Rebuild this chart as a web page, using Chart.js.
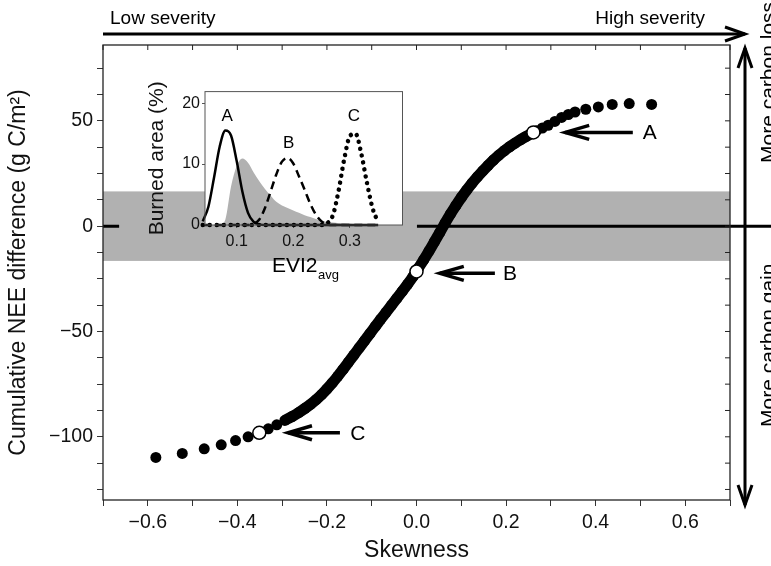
<!DOCTYPE html>
<html>
<head>
  <title>NEE vs skewness</title>
  <script src="https://cdn.jsdelivr.net/npm/chart.js"></script>
  <style>
    body { margin: 0; background: #fff; }
    #wrap { position: relative; width: 771px; height: 566px; }
    #mainChart { position: absolute; left: 0; top: 0; }
    #insetChart { position: absolute; left: 120px; top: 80px; }
  </style>
</head>
<body>
  <div id="wrap">
    <canvas id="mainChart" width="771" height="566"></canvas>
    <canvas id="insetChart" width="290" height="210"></canvas>
  </div>

  <script>
    // main panel: skewness vs cumulative NEE difference
    const skewness = [-0.582, -0.523, -0.474, -0.436, -0.404, -0.376, -0.351, -0.331, -0.312, -0.294,
      -0.278, -0.263, -0.249, -0.236, -0.224, -0.212, -0.200, -0.188, -0.176, -0.164,
      -0.152, -0.140, -0.128, -0.116, -0.104, -0.092, -0.080, -0.068, -0.056, -0.044,
      -0.032, -0.020, -0.008, 0.004, 0.016, 0.028, 0.040, 0.052, 0.064, 0.076,
      0.088, 0.100, 0.112, 0.124, 0.136, 0.148, 0.160, 0.172, 0.184, 0.196,
      0.208, 0.220, 0.232, 0.244, 0.256, 0.268, 0.281, 0.294, 0.309, 0.324,
      0.339, 0.354, 0.378, 0.406, 0.437, 0.475, 0.525];
    const neeDiff = [-109.8, -107.9, -105.7, -103.8, -101.8, -100.0, -98.1, -96.2, -94.3, -92.2,
      -90.4, -88.5, -86.5, -84.5, -82.4, -80.0, -77.3, -74.4, -71.3, -68.0,
      -64.6, -61.2, -57.8, -54.4, -51.0, -47.6, -44.2, -40.9, -37.6, -34.3,
      -31.0, -27.6, -24.0, -20.0, -16.0, -11.8, -7.4, -3.0, 1.5, 5.8,
      9.8, 13.6, 17.1, 20.4, 23.4, 26.2, 28.9, 31.4, 33.7, 35.8,
      37.7, 39.4, 41.0, 42.5, 43.9, 45.3, 46.6, 47.9, 49.7, 51.6,
      53.0, 54.2, 55.5, 56.6, 57.8, 58.2, 57.8];
    const denseFrom = 9, denseTo = 55; // run of overlapping dots drawn as a thick line

    const markerLabels = ['A', 'B', 'C'];
    const markerSkew = [0.261, 0.0, -0.351];
    const markerNee = [44.5, -21.5, -98.1];
    const arrowTipSkew = [0.332, 0.052, -0.287];
    const arrowTailSkew = [0.483, 0.175, -0.171];
    const arrowNee = [44.5, -22.4, -98.1];
    const arrowLabelSkew = [0.521, 0.209, -0.131];

    const bandRange = [-16.5, 16.5];
    const zeroLineGap = [-0.664, 0.001];

    const xTickValues = [-0.7, -0.6, -0.5, -0.4, -0.3, -0.2, -0.1, 0, 0.1, 0.2, 0.3, 0.4, 0.5, 0.6, 0.7];
    const xLabelValues = [-0.6, -0.4, -0.2, 0, 0.2, 0.4, 0.6];
    const yTickValues = [-125, -112.5, -100, -87.5, -75, -62.5, -50, -37.5, -25, -12.5, 0, 12.5, 25, 37.5, 50, 62.5, 75];
    const yLabelValues = [-100, -50, 0, 50];

    // inset: burned area distributions over EVI2avg
    const evi2 = [0.04, 0.05, 0.06, 0.07, 0.08, 0.09, 0.10, 0.11, 0.12, 0.13, 0.14, 0.15, 0.16, 0.17, 0.18, 0.19,
      0.20, 0.21, 0.22, 0.23, 0.24, 0.25, 0.26, 0.27, 0.28, 0.29, 0.30, 0.31, 0.32, 0.33, 0.34, 0.35];
    const burnedAll = [0, 0, 0, 0, 0.9, 6.3, 9.7, 10.9, 10.2, 8.6, 7.2, 5.9, 4.8, 3.8, 3.2, 2.8,
      2.4, 2.0, 1.6, 1.3, 1.0, 0.7, 0.5, 0.4, 0.3, 0.25, 0.2, 0.15, 0.1, 0.1, 0.05, 0];
    const burnedA = [0.6, 3.0, 7.8, 12.9, 15.5, 14.7, 10.5, 5.5, 2.0, 0.5, 0.1, 0, 0, 0, 0, 0,
      0, 0, 0, 0, 0, 0, 0, 0, 0, 0, 0, 0, 0, 0, 0, 0];
    const burnedB = [0, 0, 0, 0, 0, 0, 0, 0, 0, 0.2, 0.9, 2.8, 5.5, 8.3, 10.4, 11.0,
      10.1, 8.0, 5.8, 3.5, 1.7, 0.6, 0.1, 0, 0, 0, 0, 0, 0, 0, 0, 0];
    const burnedC = [0, 0, 0, 0, 0, 0, 0, 0, 0, 0, 0, 0, 0, 0, 0, 0,
      0, 0, 0, 0, 0, 0, 0.3, 1.6, 5.6, 10.8, 14.6, 15.0, 11.8, 7.0, 2.8, 0.4];
    const insetLabelX = [0.083, 0.192, 0.307];
    const insetLabelY = [17.9, 13.4, 17.9];
    const insetXTicks = [0.1, 0.2, 0.3];
    const insetYTicks = [0, 10, 20];

    const FONT = '"Liberation Sans", Arial, Helvetica, sans-serif';
    const minus = s => s.replace('-', '\u2212');
    const near = (arr, v) => arr.some(a => Math.abs(a - v) < 1e-9);
    const pts = (xs, ys) => xs.map((x, i) => ({ x: x, y: ys[i] }));

    function arrow(ctx, x1, y1, x2, y2, heads, len, spread) {
      // heads: 'end' = at x2,y2, 'start' = at x1,y1
      const d = Math.hypot(x2 - x1, y2 - y1);
      const ux = (x2 - x1) / d, uy = (y2 - y1) / d;
      ctx.beginPath();
      ctx.moveTo(x1, y1);
      ctx.lineTo(x2, y2);
      ctx.stroke();
      heads.forEach(h => {
        const tx = h === 'end' ? x2 : x1, ty = h === 'end' ? y2 : y1;
        const sx = h === 'end' ? ux : -ux, sy = h === 'end' ? uy : -uy;
        ctx.beginPath();
        ctx.moveTo(tx - len * sx - spread * sy, ty - len * sy + spread * sx);
        ctx.lineTo(tx, ty);
        ctx.lineTo(tx - len * sx + spread * sy, ty - len * sy - spread * sx);
        ctx.stroke();
      });
    }

    const mainDecor = {
      id: 'mainDecor',
      beforeDatasetsDraw(chart) {
        const { ctx, chartArea: a, scales: { x, y } } = chart;
        ctx.save();
        ctx.fillStyle = '#b1b1b1';
        const yt = y.getPixelForValue(bandRange[1]);
        const yb = y.getPixelForValue(bandRange[0]);
        ctx.fillRect(a.left, yt, a.right - a.left, yb - yt);
        const y0 = y.getPixelForValue(0);
        ctx.strokeStyle = '#000';
        ctx.lineWidth = 3;
        ctx.beginPath();
        ctx.moveTo(a.left, y0);
        ctx.lineTo(x.getPixelForValue(zeroLineGap[0]), y0);
        ctx.moveTo(x.getPixelForValue(zeroLineGap[1]), y0);
        ctx.lineTo(chart.width, y0);
        ctx.stroke();
        ctx.restore();
      },
      afterDraw(chart) {
        const { ctx, chartArea: a, scales: { x, y } } = chart;
        ctx.save();
        // frame + inward ticks on top and right
        ctx.strokeStyle = '#222';
        ctx.lineWidth = 1.3;
        ctx.strokeRect(a.left, a.top, a.right - a.left, a.bottom - a.top);
        ctx.lineWidth = 1;
        ctx.beginPath();
        xTickValues.forEach(v => {
          const px = x.getPixelForValue(v);
          ctx.moveTo(px, a.top);
          ctx.lineTo(px, a.top + 5);
        });
        yTickValues.forEach(v => {
          const py = y.getPixelForValue(v);
          ctx.moveTo(a.right, py);
          ctx.lineTo(a.right - 5, py);
        });
        ctx.stroke();

        // A/B/C pointer arrows
        ctx.strokeStyle = '#000';
        ctx.fillStyle = '#000';
        ctx.lineWidth = 3.5;
        ctx.font = '21px ' + FONT;
        ctx.textAlign = 'center';
        ctx.textBaseline = 'middle';
        markerLabels.forEach((lab, i) => {
          const py = y.getPixelForValue(arrowNee[i]);
          arrow(ctx, x.getPixelForValue(arrowTailSkew[i]), py, x.getPixelForValue(arrowTipSkew[i]), py, ['end'], 24, 7);
          ctx.fillText(lab, x.getPixelForValue(arrowLabelSkew[i]), py + 1);
        });

        // severity arrow on top
        ctx.lineWidth = 3;
        arrow(ctx, a.left, 34, 745, 34, ['end'], 20, 7);
        ctx.font = '19px ' + FONT;
        ctx.textBaseline = 'alphabetic';
        ctx.textAlign = 'left';
        ctx.fillText('Low severity', 110, 24);
        ctx.textAlign = 'right';
        ctx.fillText('High severity', 705, 24);

        // carbon arrow on the right
        arrow(ctx, 745, 48, 745, 505, ['start', 'end'], 20, 7);
        ctx.font = '21px ' + FONT;
        ctx.textAlign = 'left';
        [['More carbon loss', 163], ['More carbon gain', 427]].forEach(([t, y1]) => {
          ctx.save();
          ctx.translate(775, y1);
          ctx.rotate(-Math.PI / 2);
          ctx.fillText(t, 0, 0);
          ctx.restore();
        });
        ctx.restore();
      }
    };

    new Chart(document.getElementById('mainChart'), {
      type: 'scatter',
      data: {
        datasets: [
          {
            data: pts(markerSkew, markerNee),
            pointRadius: 6.5,
            pointBackgroundColor: '#fff',
            pointBorderColor: '#000',
            pointBorderWidth: 1.5
          },
          {
            data: pts(skewness, neeDiff),
            pointRadius: 5.5,
            pointBackgroundColor: '#000',
            pointBorderWidth: 0
          },
          {
            data: pts(skewness.slice(denseFrom, denseTo + 1), neeDiff.slice(denseFrom, denseTo + 1)),
            showLine: true,
            borderColor: '#000',
            borderWidth: 11,
            tension: 0.3,
            pointRadius: 0
          }
        ]
      },
      options: {
        responsive: false,
        animation: false,
        layout: { padding: { top: 45, right: 41, left: 0, bottom: 0 } },
        plugins: { legend: { display: false }, tooltip: { enabled: false } },
        scales: {
          x: {
            min: -0.7, max: 0.7,
            afterBuildTicks: s => { s.ticks = xTickValues.map(v => ({ value: v })); },
            afterFit: s => { s.height = 66; },
            grid: { drawOnChartArea: false, tickLength: 6, color: '#333' },
            border: { display: false },
            ticks: {
              autoSkip: false, maxRotation: 0, padding: 5, color: '#111',
              font: { family: FONT, size: 19.5 },
              callback: v => near(xLabelValues, v) ? minus(v.toFixed(1)) : ''
            },
            title: { display: true, text: 'Skewness', color: '#111', font: { family: FONT, size: 23 }, padding: { top: 0, bottom: 2 } }
          },
          y: {
            min: -130, max: 86,
            afterBuildTicks: s => { s.ticks = yTickValues.map(v => ({ value: v })); },
            afterFit: s => { s.width = 103; },
            grid: { drawOnChartArea: false, tickLength: 6, color: '#333' },
            border: { display: false },
            ticks: {
              autoSkip: false, padding: 4, color: '#111',
              font: { family: FONT, size: 19.5 },
              callback: v => near(yLabelValues, v) ? minus(String(v)) : ''
            },
            title: { display: true, text: 'Cumulative NEE difference (g C/m\u00b2)', color: '#111', font: { family: FONT, size: 23 }, padding: { top: 5, bottom: 0 } }
          }
        }
      },
      plugins: [mainDecor]
    });

    const insetDecor = {
      id: 'insetDecor',
      beforeDraw(chart) {
        const { ctx, chartArea: a } = chart;
        ctx.save();
        ctx.fillStyle = '#fff';
        ctx.fillRect(a.left, a.top, a.right - a.left, a.bottom - a.top);
        ctx.restore();
      },
      afterDraw(chart) {
        const { ctx, chartArea: a, scales: { x, y } } = chart;
        ctx.save();
        ctx.strokeStyle = '#555';
        ctx.lineWidth = 1;
        ctx.strokeRect(a.left, a.top, a.right - a.left, a.bottom - a.top);
        ctx.fillStyle = '#000';
        ctx.font = '17px ' + FONT;
        ctx.textAlign = 'center';
        ctx.textBaseline = 'middle';
        markerLabels.forEach((lab, i) => {
          ctx.fillText(lab, x.getPixelForValue(insetLabelX[i]), y.getPixelForValue(insetLabelY[i]));
        });
        // EVI2 with subscript
        ctx.textAlign = 'left';
        ctx.textBaseline = 'alphabetic';
        ctx.font = '21px ' + FONT;
        ctx.fillText('EVI2', 152, 192);
        ctx.font = '13px ' + FONT;
        ctx.fillText('avg', 198, 199);
        ctx.restore();
      }
    };

    new Chart(document.getElementById('insetChart'), {
      type: 'scatter',
      data: {
        datasets: [
          { data: pts(evi2, burnedA), showLine: true, borderColor: '#000', borderWidth: 2.5, pointRadius: 0, cubicInterpolationMode: 'monotone', clip: false },
          { data: pts(evi2, burnedB), showLine: true, borderColor: '#000', borderWidth: 2.5, borderDash: [8, 5], pointRadius: 0, cubicInterpolationMode: 'monotone', clip: false },
          { data: pts(evi2, burnedC), showLine: true, borderColor: '#000', borderWidth: 4.5, borderDash: [0.01, 7], borderCapStyle: 'round', pointRadius: 0, cubicInterpolationMode: 'monotone', clip: false },
          { data: pts(evi2, burnedAll), showLine: true, borderWidth: 0, backgroundColor: '#b1b1b1', fill: 'origin', pointRadius: 0, cubicInterpolationMode: 'monotone' }
        ]
      },
      options: {
        responsive: false,
        animation: false,
        layout: { padding: { top: 6.5, right: 7.5, left: 0, bottom: 0 } },
        plugins: { legend: { display: false }, tooltip: { enabled: false } },
        scales: {
          x: {
            min: 0.044, max: 0.393,
            afterBuildTicks: s => { s.ticks = insetXTicks.map(v => ({ value: v })); },
            afterFit: s => { s.height = 65; },
            grid: { drawOnChartArea: false, tickLength: 3, color: '#555' },
            border: { display: false },
            ticks: { padding: 4, color: '#111', font: { family: FONT, size: 16 }, callback: v => v.toFixed(1) }
          },
          y: {
            min: 0, max: 21.9,
            afterBuildTicks: s => { s.ticks = insetYTicks.map(v => ({ value: v })); },
            afterFit: s => { s.width = 85; },
            grid: { drawOnChartArea: false, tickLength: 3, color: '#555' },
            border: { display: false },
            ticks: { padding: 2, color: '#111', font: { family: FONT, size: 16 } },
            title: { display: true, text: 'Burned area (%)', color: '#111', font: { family: FONT, size: 21 }, padding: { top: 25, bottom: 0 } }
          }
        }
      },
      plugins: [insetDecor]
    });
  </script>
</body>
</html>
